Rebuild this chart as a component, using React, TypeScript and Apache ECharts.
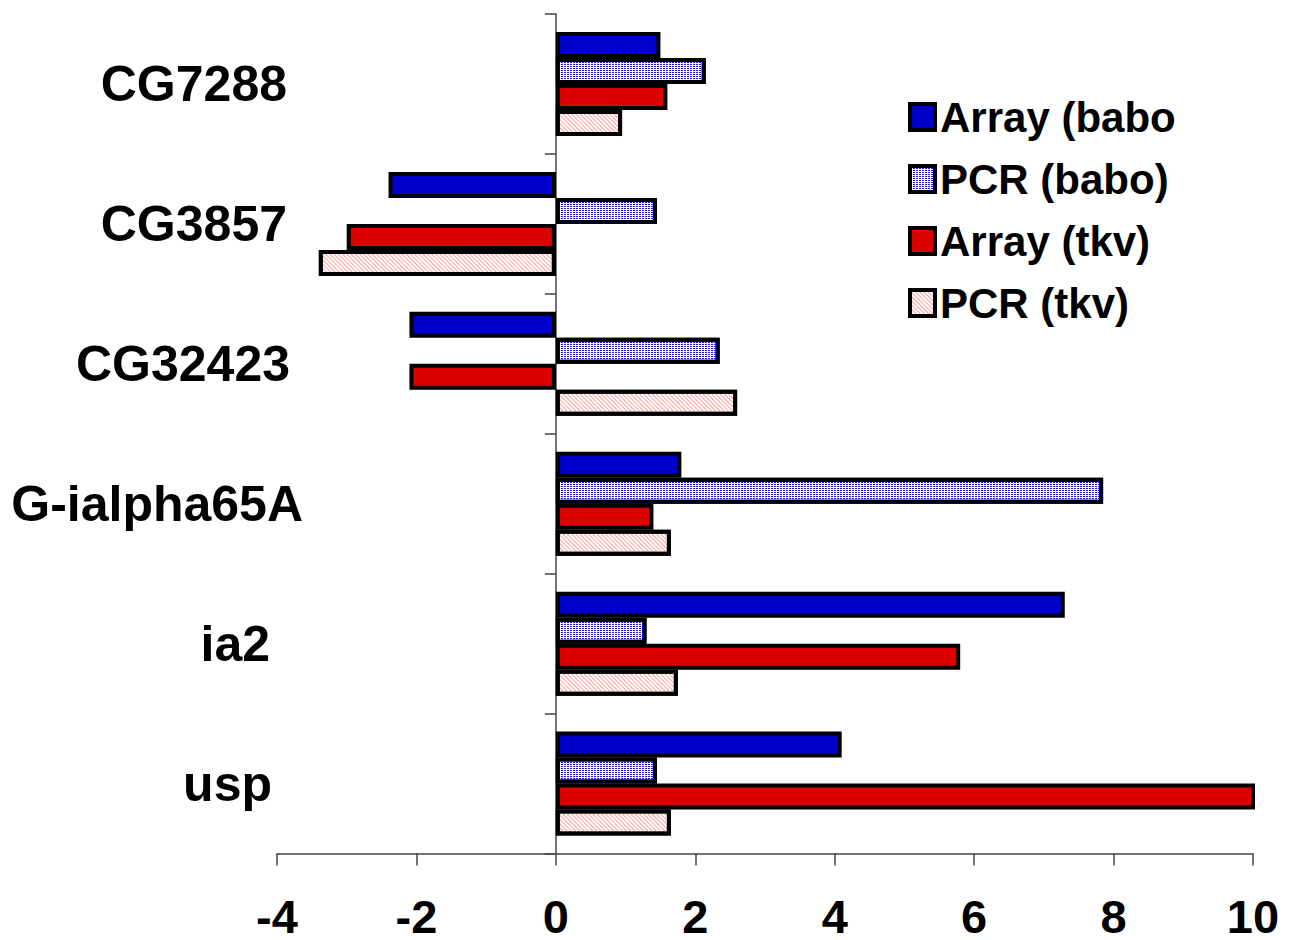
import React, { useEffect, useRef } from "react";
import * as echarts from "echarts";

const categories = ["CG7288", "CG3857", "CG32423", "G-ialpha65A", "ia2", "usp"];
const seriesNames = ["Array (babo)", "PCR (babo)", "Array (tkv)", "PCR (tkv)"];
const arrayBabo = [1.5, -2.4, -2.1, 1.8, 7.3, 4.1];
const pcrBabo = [2.15, 1.45, 2.35, 7.85, 1.3, 1.45];
const arrayTkv = [1.6, -3.0, -2.1, 1.4, 5.8, 10.5];
const pcrTkv = [0.95, -3.4, 2.6, 1.65, 1.75, 1.65];
const xTicks = { min: -4, max: 10, interval: 2 };

const FONT = "'Liberation Sans', Arial, Helvetica, sans-serif";
// right padding of each category label (styling only)
const labelPad: Record<string, number> = {
  CG7288: 16,
  CG3857: 16,
  CG32423: 13,
  "G-ialpha65A": 0,
  ia2: 33,
  usp: 31,
};

export default function App() {
  const ref = useRef<HTMLDivElement>(null);
  useEffect(() => {
    if (!ref.current) return;
    const chart = echarts.init(ref.current, undefined, { renderer: "svg" });
    const border = { borderColor: "#000", borderWidth: 4 };
    const mk = (name: string, data: number[], itemStyle: any) => ({
      name,
      type: "bar",
      data,
      barWidth: 26,
      barGap: "0%",
      clip: true,
      itemStyle: { ...border, ...itemStyle },
    });
    chart.setOption({
      animation: false,
      backgroundColor: "#fff",
      grid: { left: 277, width: 976, top: 14, height: 842, containLabel: false },
      legend: {
        orient: "vertical",
        left: 903,
        top: 91,
        itemWidth: 25,
        itemHeight: 26,
        itemGap: 20,
        icon: "rect",
        data: seriesNames,
        selectedMode: false,
        itemStyle: { borderWidth: 4 },
        textStyle: {
          fontFamily: FONT,
          fontWeight: "bold",
          fontSize: 42,
          color: "#000",
          width: 238,
          overflow: "truncate",
          ellipsis: "",
        },
      },
      xAxis: {
        type: "value",
        min: xTicks.min,
        max: xTicks.max,
        interval: xTicks.interval,
        splitLine: { show: false },
        axisLine: { show: true, onZero: false, lineStyle: { color: "#444", width: 1.5 } },
        axisTick: { show: true, length: 12, lineStyle: { color: "#444", width: 1.5 } },
        axisLabel: {
          margin: 47,
          lineHeight: 32,
          fontFamily: FONT,
          fontWeight: "bold",
          fontSize: 47,
          color: "#000",
        },
      },
      yAxis: [
        {
          type: "category",
          data: categories,
          inverse: true,
          axisLine: { show: true, onZero: true, lineStyle: { color: "#444", width: 1.5 } },
          axisTick: { show: true, length: 11, lineStyle: { color: "#444", width: 1.5 } },
          axisLabel: { show: false },
          splitLine: { show: false },
        },
        {
          type: "category",
          data: categories.map((c) => ({
            value: c,
            textStyle: { padding: [0, labelPad[c] || 0, 0, 0] },
          })),
          inverse: true,
          position: "left",
          axisLine: { show: false, onZero: false },
          axisTick: { show: false },
          splitLine: { show: false },
          axisLabel: {
            margin: -26,
            align: "right",
            fontFamily: FONT,
            fontWeight: "bold",
            fontSize: 50,
            color: "#000",
          },
        },
      ],
      series: [
        mk(seriesNames[0], arrayBabo, { color: "#0000cc" }),
        mk(seriesNames[1], pcrBabo, {
          color: "#ffffff",
          decal: {
            symbol: "rect",
            symbolSize: 1,
            color: "#1a1ae0",
            dashArrayX: [2, 1],
            dashArrayY: [1, 1],
            rotation: 0,
          },
        }),
        mk(seriesNames[2], arrayTkv, { color: "#dd0000" }),
        mk(seriesNames[3], pcrTkv, {
          color: "#ffffff",
          decal: {
            symbol: "rect",
            symbolSize: 1,
            color: "#f3a2a2",
            dashArrayX: [1, 0],
            dashArrayY: [1, 2],
            rotation: Math.PI / 4,
          },
        }),
      ],
    });
    return () => chart.dispose();
  }, []);
  return (
    <div
      ref={ref}
      style={{ position: "fixed", left: 0, top: 0, width: 1289, height: 940, background: "#fff" }}
    />
  );
}
